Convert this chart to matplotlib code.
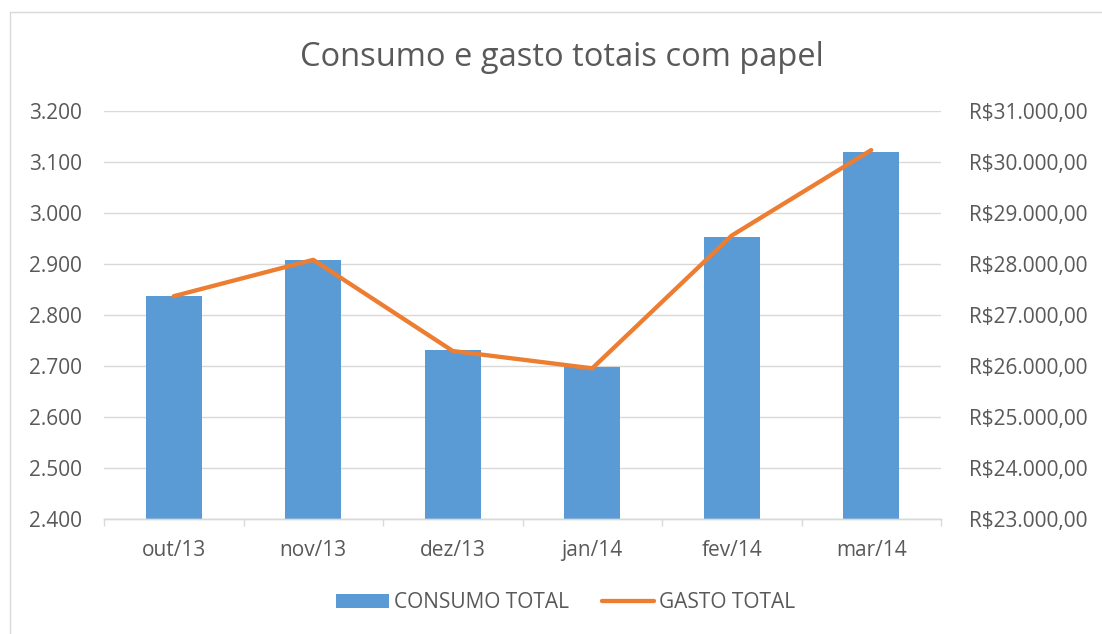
import matplotlib
matplotlib.use("Agg")
import matplotlib.pyplot as plt
from matplotlib.ticker import FuncFormatter, FixedLocator
from matplotlib.lines import Line2D
from matplotlib.patches import Patch, Rectangle

categories = ["out/13", "nov/13", "dez/13", "jan/14", "fev/14", "mar/14"]
consumo_total = [2838, 2908, 2731, 2699, 2954, 3121]
gasto_total = [27375, 28088, 26300, 25960, 28564, 30240]
left_ticks = [2400, 2500, 2600, 2700, 2800, 2900, 3000, 3100, 3200]
right_ticks = [23000, 24000, 25000, 26000, 27000, 28000, 29000, 30000, 31000]

TEXT = "#595959"
GRID = "#D9D9D9"
BLUE = "#5B9BD5"
ORANGE = "#ED7D31"
FONT = ["Open Sans", "DejaVu Sans"]
plt.rcParams["font.family"] = FONT
FS = 15

fig = plt.figure(figsize=(11.02, 6.34), dpi=100)
W, H = 1102, 634
ax = fig.add_axes([104 / W, 1 - 519.3 / H, (941 - 104) / W, (519.3 - 111.3) / H])
ax2 = ax.twinx()

# chart border
fig.patches.append(Rectangle((10 / W, -0.1), 1.2, 1 - 12 / H + 0.1, transform=fig.transFigure,
                             fill=False, edgecolor=GRID, linewidth=1.0))

x = list(range(len(categories)))
ax.bar(x, consumo_total, width=0.4, color=BLUE, zorder=2)
ax.set_xlim(-0.5, len(categories) - 0.5)
ax.set_ylim(left_ticks[0], left_ticks[-1])
ax.set_yticks(left_ticks)
ax.yaxis.set_major_formatter(FuncFormatter(lambda v, p: f"{int(v):,}".replace(",", ".")))
ax.grid(axis="y", color=GRID, linewidth=1.0, zorder=0)
ax.set_axisbelow(True)

ax2.plot(x, gasto_total, color=ORANGE, linewidth=3.1, solid_capstyle="round",
         solid_joinstyle="round", zorder=3)
ax2.set_ylim(right_ticks[0], right_ticks[-1])
ax2.set_yticks(right_ticks)


def brl(v, p):
    s = f"{v:,.2f}"
    s = s.replace(",", "X").replace(".", ",").replace("X", ".")
    return "R$" + s


ax2.yaxis.set_major_formatter(FuncFormatter(brl))

for a in (ax, ax2):
    for s in ("top", "left", "right"):
        a.spines[s].set_visible(False)
    a.spines["bottom"].set_color(GRID)
    a.spines["bottom"].set_linewidth(1.0)
    a.tick_params(axis="y", length=0, labelsize=FS, labelcolor=TEXT)

ax.tick_params(axis="y", pad=16)
ax2.tick_params(axis="y", pad=20)

ax.set_xticks(x)
ax.set_xticklabels(categories)
ax.tick_params(axis="x", which="major", length=0, pad=15, labelsize=FS, labelcolor=TEXT)
ax.xaxis.set_minor_locator(FixedLocator([i - 0.5 for i in range(len(categories) + 1)]))
ax.tick_params(axis="x", which="minor", length=5, width=1.0, color=GRID, direction="out")

fig.text(562 / W, 1 - 58 / H, "Consumo e gasto totais com papel", ha="center", va="center",
         fontsize=23.5, color=TEXT)

handles = [Patch(facecolor=BLUE, edgecolor="none"),
           Line2D([0], [0], color=ORANGE, linewidth=3.1, solid_capstyle="round")]
fig.legend(handles, ["CONSUMO TOTAL", "GASTO TOTAL"], loc="center",
           bbox_to_anchor=(566 / W, 1 - 603 / H), ncol=2, frameon=False,
           fontsize=FS, labelcolor=TEXT, handlelength=2.5, handleheight=0.62,
           handletextpad=0.25, columnspacing=1.6)

fig.savefig("out.png", dpi=100)
